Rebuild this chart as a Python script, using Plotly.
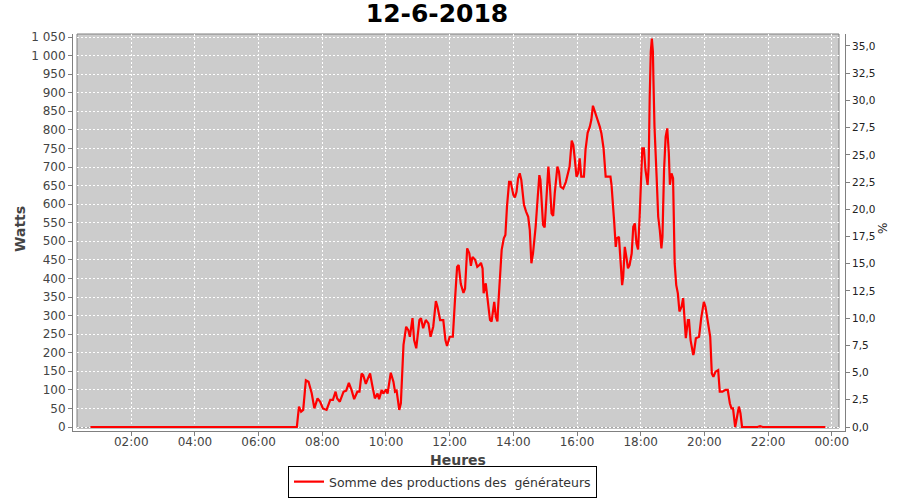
import plotly.graph_objects as go

DATE = "2018-06-12"
TITLE = "12-6-2018"
SERIES_NAME = "Somme des productions des  générateurs"
X_TITLE = "Heures"
Y_TITLE = "Watts"
Y2_TITLE = "%"
FULL_SCALE_W = 1025.8 / 0.35

times = [
    "00:43", "05:00", "05:05", "05:10", "05:35", "05:40", "05:45", "06:00", "06:05", "06:10",
    "06:30", "06:35", "06:40", "07:10",
    "07:12", "07:16", "07:20", "07:24", "07:29", "07:34", "07:40", "07:45", "07:51", "07:56",
    "08:01", "08:08", "08:15", "08:20", "08:25", "08:28", "08:33", "08:40", "08:45", "08:50", "08:55",
    "09:00", "09:06", "09:10", "09:14", "09:17", "09:22", "09:26", "09:30", "09:34", "09:39", "09:44",
    "09:47", "09:52", "09:55",
    "10:00", "10:03", "10:09", "10:14", "10:17", "10:20", "10:25", "10:28", "10:33", "10:38", "10:42",
    "10:45", "10:50", "10:53", "10:57",
    "11:03", "11:06", "11:10", "11:15", "11:20", "11:24", "11:29", "11:34", "11:37", "11:42", "11:48",
    "11:52", "11:55",
    "12:00", "12:06", "12:10", "12:14", "12:17", "12:21", "12:26", "12:29", "12:33", "12:37", "12:40",
    "12:43", "12:48", "12:52", "12:56", "12:59",
    "13:02", "13:04", "13:08", "13:11", "13:16", "13:19", "13:24", "13:27", "13:30", "13:31", "13:35",
    "13:38", "13:42", "13:45", "13:48", "13:52", "13:55",
    "14:00", "14:03", "14:06", "14:09", "14:12", "14:15", "14:20", "14:24", "14:28", "14:31", "14:34",
    "14:37", "14:42", "14:46", "14:49", "14:51", "14:54", "14:56", "14:59",
    "15:03", "15:06", "15:09", "15:12", "15:15", "15:18", "15:23", "15:26", "15:29", "15:34", "15:39",
    "15:43", "15:46", "15:50", "15:53", "15:56", "15:59",
    "16:02", "16:05", "16:08", "16:13", "16:16", "16:20", "16:24", "16:27", "16:30", "16:35", "16:43",
    "16:46", "16:50", "16:54", "16:58",
    "17:03", "17:05", "17:08", "17:10", "17:13", "17:15", "17:19", "17:22", "17:25", "17:27", "17:30",
    "17:33", "17:36", "17:39", "17:43", "17:46", "17:49", "17:52", "17:55", "17:58",
    "18:01", "18:03", "18:06", "18:09", "18:13", "18:15", "18:17", "18:19", "18:21", "18:23", "18:24",
    "18:26", "18:30", "18:33", "18:36", "18:39", "18:41", "18:44", "18:47", "18:50", "18:53", "18:55",
    "18:58",
    "19:01", "19:04", "19:07", "19:10", "19:13", "19:17", "19:20", "19:25", "19:29", "19:31", "19:34",
    "19:39", "19:40", "19:44", "19:50", "19:54", "19:59",
    "20:02", "20:07", "20:11", "20:14", "20:17", "20:21", "20:26", "20:29", "20:34", "20:40", "20:44",
    "20:48", "20:51", "20:54", "20:58",
    "21:01", "21:05", "21:08", "21:11", "21:40", "21:45", "21:50", "23:48",
]

watts = [
    0, 0, 2, 0, 0, 2, 0, 0, 2, 0,
    0, 2, 0, 0,
    0, 55, 41, 46, 126, 122, 91, 50, 77, 68,
    50, 46, 73, 73, 95, 77, 68, 95, 98, 119, 100,
    75, 95, 95, 144, 140, 116, 131, 144, 113, 77, 90,
    75, 100, 90,
    101, 90, 146, 122, 95, 98, 46, 64, 221, 270, 261,
    243, 293, 234, 212,
    288, 293, 266, 288, 279, 243, 270, 339, 324, 288, 288,
    234, 218,
    243, 243, 342, 431, 436, 385, 361, 373, 481, 468, 434,
    458, 450, 431, 436, 442,
    427, 360, 387, 351, 288, 284, 337, 297, 284, 315, 414,
    477, 508, 517, 593, 660, 660,
    625, 618, 633, 670, 683, 665, 598, 580, 566, 530, 441,
    467, 539, 620, 678, 665, 593, 544, 537,
    620, 701, 647, 575, 568, 629, 701, 687, 647, 642, 660,
    683, 701, 771, 759, 719, 674,
    683, 723, 674, 674, 746, 792, 808, 827, 865, 845, 808,
    790, 750, 674, 674,
    674, 652, 602, 553, 485, 508, 512, 441, 382, 404, 485,
    458, 427, 436, 467, 539, 548, 494, 478, 566,
    665, 750, 750, 692, 652, 701, 889, 1010, 1046, 1010, 934,
    808, 674, 566, 530, 481, 512, 692, 781, 804, 737, 652,
    683,
    670, 441, 382, 360, 311, 324, 347, 239, 288, 288, 234,
    194, 198, 239, 243, 293, 337,
    324, 284, 243, 144, 135, 149, 153, 95, 95, 100, 100,
    64, 50, 50, 0,
    23, 55, 37, 0, 0, 2, 0, 0,
]
assert len(times) == len(watts)

watt_ticks = list(range(0, 1051, 50))
watt_ticktext = [f"{v:,}".replace(",", " ") for v in watt_ticks]
pct_ticks = [i * 2.5 for i in range(15)]
pct_ticktext = [f"{v:.1f}".replace(".", ",") for v in pct_ticks]

x_vals = [f"{DATE} {t}" for t in times]
percent = [w / FULL_SCALE_W * 100 for w in watts]

fig = go.Figure()
fig.add_trace(go.Scatter(
    x=x_vals, y=watts, mode="lines", name=SERIES_NAME,
    line=dict(color="#ff0000", width=2.2),
))
# same series expressed in % of full scale, only to carry the right-hand axis
fig.add_trace(go.Scatter(
    x=x_vals, y=percent, mode="lines", yaxis="y2", showlegend=False,
    opacity=0, hoverinfo="skip", line=dict(color="#ff0000", width=1),
))

FONT = "DejaVu Sans"
# plot area in pixels: x 73..845, y 34..431
PL, PW, PB, PH = 73, 772, 431, 397


def px(xp):
    return (xp - PL) / PW


def py(yp):
    return (PB - yp) / PH


fig.update_layout(
    width=900, height=500,
    margin=dict(l=73, r=55, t=34, b=69, autoexpand=False),
    paper_bgcolor="white", plot_bgcolor="white",
    font=dict(family=FONT, size=12, color="#444444"),
    title=dict(text=TITLE, x=437 / 900, xref="container", xanchor="center",
               y=1 - 13 / 500, yref="container", yanchor="middle",
               font=dict(family=FONT, size=25, color="#000000", weight="bold")),
    showlegend=True,
    legend=dict(orientation="h", x=442.5 / 900, xref="container", xanchor="center",
                y=1 - 466 / 500, yref="container", yanchor="top",
                bordercolor="#000000", borderwidth=1, bgcolor="white",
                font=dict(family=FONT, size=12.5, color="#333333"),
                itemwidth=30),
    xaxis=dict(
        type="date", automargin=False,
        range=[f"{DATE} 00:10:10", "2018-06-13 00:25:00"],
        tickformat="%H:%M", dtick=7200000, tick0=f"{DATE} 00:00",
        showline=True, linecolor="#808080", linewidth=1,
        ticks="outside", ticklen=4, tickcolor="#808080",
        ticklabelstandoff=-4,
        showgrid=True, gridcolor="white", griddash="2px,2px", gridwidth=1,
        zeroline=False,
        tickfont=dict(family=FONT, size=12, color="#444444"),
    ),
    yaxis=dict(
        automargin=False,
        range=[-10.77, 1058.1],
        tickvals=watt_ticks, ticktext=watt_ticktext,
        showline=True, linecolor="#808080", linewidth=1,
        ticks="outside", ticklen=4, tickcolor="#808080",
        showgrid=True, gridcolor="white", griddash="2px,2px", gridwidth=1,
        zeroline=False,
        tickfont=dict(family=FONT, size=12, color="#444444"),
    ),
    yaxis2=dict(
        automargin=False,
        overlaying="y", side="right", anchor="x",
        range=[-0.367, 36.10],
        tickvals=pct_ticks, ticktext=pct_ticktext,
        showline=True, linecolor="#808080", linewidth=1,
        ticks="outside", ticklen=4, tickcolor="#808080",
        showgrid=False, zeroline=False,
        tickfont=dict(family=FONT, size=10.5, color="#222222"),
    ),
    annotations=[
        dict(text=X_TITLE, xref="paper", yref="paper", x=px(458), y=py(460),
             xanchor="center", yanchor="middle", showarrow=False,
             font=dict(family=FONT, size=14, color="#444444", weight="bold")),
        dict(text=Y_TITLE, xref="paper", yref="paper", x=px(20), y=py(229),
             xanchor="center", yanchor="middle", showarrow=False, textangle=-90,
             font=dict(family=FONT, size=14, color="#444444", weight="bold")),
        dict(text=Y2_TITLE, xref="paper", yref="paper", x=px(883), y=py(229),
             xanchor="center", yanchor="middle", showarrow=False, textangle=-90,
             font=dict(family=FONT, size=12, color="#222222")),
    ],
)

# grey plot background, inset from the axis lines
fig.add_shape(type="rect", xref="paper", yref="paper",
              x0=4 / 772, x1=766 / 772, y0=3 / 397, y1=1.0,
              fillcolor="#cccccc", line=dict(color="#808080", width=1), layer="below")

fig.write_html("out.html", config={"displayModeBar": False},
               post_script="document.body.style.margin='0';document.body.style.overflow='hidden';")
